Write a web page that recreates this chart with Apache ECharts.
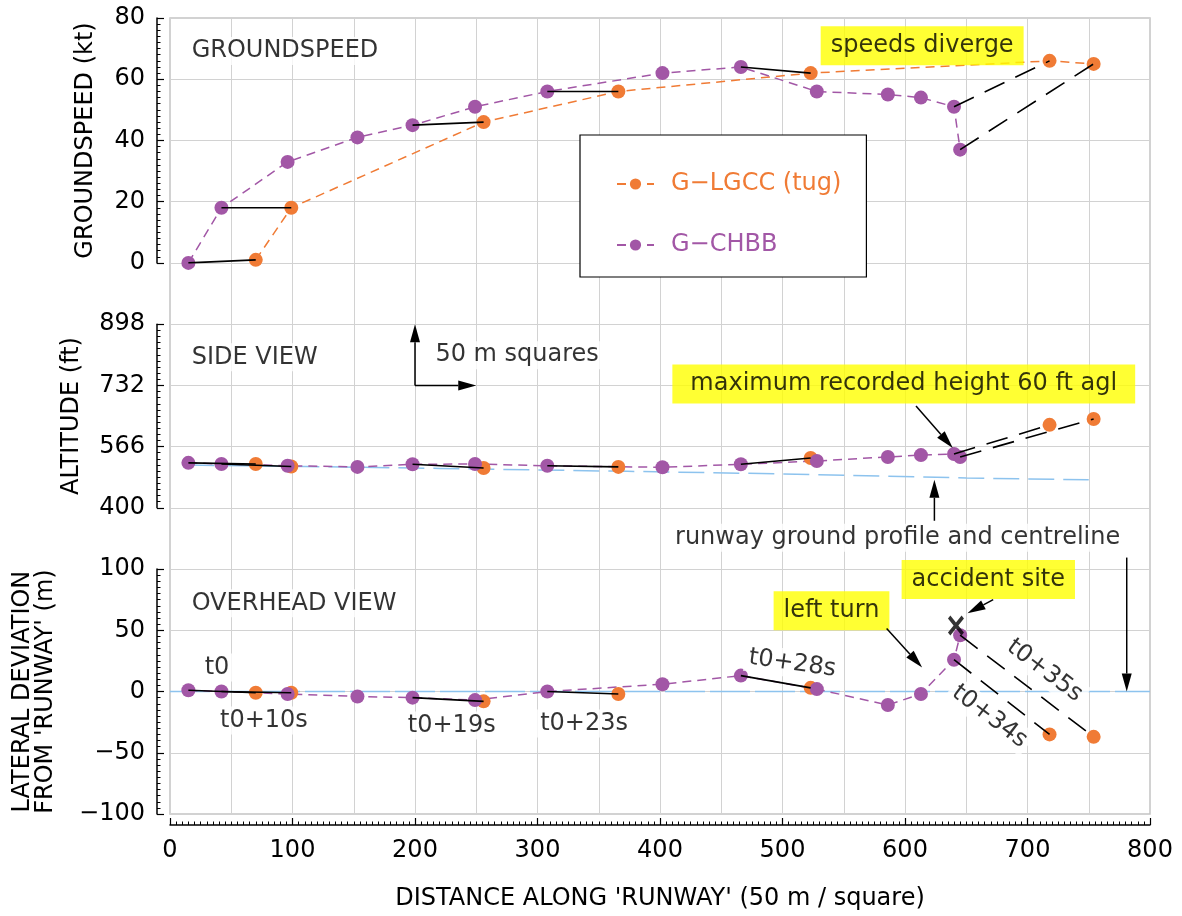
<!DOCTYPE html>
<html><head><meta charset="utf-8">
<script src="https://cdn.jsdelivr.net/npm/echarts@6/dist/echarts.min.js"></script>
<style>html,body{margin:0;padding:0;background:#fff}#c{width:1182px;height:916px}</style>
</head><body><div id="c"></div>
<script>
// ---------------- data ----------------
const NAME_L = 'G\u2212LGCC (tug)';
const NAME_C = 'G\u2212CHBB';
const xLGCC   = [70, 99, 256, 366, 523, 718, 754];
const gsLGCC  = [1, 18, 46, 56, 62, 66, 65];
const altLGCC = [519, 512, 508, 511, 535, 625, 641];
const latLGCC = [-1, -1, -8, -2, 3, -35, -37];
const xCHBB   = [15, 42, 96, 153, 198, 249, 308, 402, 466, 528, 586, 613, 640, 645];
const gsCHBB  = [0, 18, 33, 41, 45, 51, 56, 62, 64, 56, 55, 54, 51, 37];
const altCHBB = [522, 519, 514, 511, 518, 519, 514, 510, 518, 527, 538, 543, 546, 538];
const latCHBB = [1, 0, -2, -4, -5, -7, 0, 6, 13, 2, -11, -2, 26, 46];
// time-synchronised pairs [CHBB index, LGCC index]
const syncPairs  = [[0,0],[1,1],[4,2],[6,3],[8,4],[12,5],[13,6]];
const syncDashed = [false,false,false,false,false,true,true];
const xGround   = [15, 110, 220, 373, 500, 650, 750];
const altGround = [516, 512, 507, 499, 492, 481, 476];
const xCentre   = [0, 800];
const latCentre = [0, 0];
const gsTicks   = [0, 20, 40, 60, 80];
const altTicks  = [400, 566, 732, 898];
const latTicks  = [-100, -50, 0, 50, 100];
const distTicks = [0, 100, 200, 300, 400, 500, 600, 700, 800];

// annotations: [panel, text, x, y, style, rotate]
const notes = [
  [1, 'GROUNDSPEED', 14, 69.2, 'leftWhite', 0],
  [1, 'speeds diverge', 614, 70.9, 'yellow', 0],
  [2, 'SIDE VIEW', 14, 808, 'leftWhite', 0],
  [2, '50 m squares', 213, 814, 'leftWhite', 0],
  [2, 'maximum recorded height 60 ft agl', 599, 736, 'yellowWide', 0],
  [2, 'runway ground profile and centreline', 594, 319, 'white', 0],
  [3, 'OVERHEAD VIEW', 14, 72, 'leftWhite', 0],
  [3, 'accident site', 668, 91.4, 'yellow', 0],
  [3, 'left turn', 540, 66, 'yellow', 0],
  [3, 't0', 38.4, 19.6, 'white', 0],
  [3, 't0+10s', 76.7, -23.7, 'white', 0],
  [3, 't0+19s', 230, -27.8, 'white', 0],
  [3, 't0+23s', 338, -26.1, 'white', 0],
  [3, 't0+28s', 508, 22.9, 'white', -8],
  [3, 't0+35s', 714, 17, 'white', -37],
  [3, 't0+34s', 669, -20.4, 'white', -37]
];
// arrows: [panel, from, to]
const arrows = [
  [2, [200, 732], [250, 732]],
  [2, [200, 732], [200, 898]],
  [2, [609, 676], [639, 562]],
  [2, [624, 365], [624, 476]],
  [3, [672, 75], [651, 64]],
  [3, [585, 51.4], [614, 19.6]],
  [3, [781, 109.4], [781, 0]]
];
const accidentSite = [641.6, 53.9];

// ---------------- styling ----------------
const FONT = 'DejaVu Sans';
const ORANGE = '#F07B35', PURPLE = '#A257A6', BLUE = '#8DC3EE', GRIDC = '#d2d2d2';
const SQ = 796 / 13;
const panelAxes = {1: [1, 1], 2: [2, 2], 3: [3, 4]};

const pts = (xs, ys) => xs.map((x, i) => [x, ys[i]]);
const fmtNeg = v => (v < 0 ? '\u2212' + Math.abs(v) : String(v));

const axisCommonY = {
  type: 'value', position: 'left', offset: 13,
  axisLine: {show: true, onZero: false, lineStyle: {color: '#000', width: 1.5}},
  axisTick: {show: true, inside: true, length: 7, lineStyle: {color: '#000', width: 1.2}},
  minorTick: {show: true, splitNumber: 10, length: 3.5, lineStyle: {color: '#000', width: 1}},
  axisLabel: {fontSize: 24, fontFamily: FONT, color: '#000', margin: 12, formatter: fmtNeg},
  splitLine: {show: false},
  nameLocation: 'middle', nameRotate: 90,
  nameTextStyle: {fontSize: 24, fontFamily: FONT, color: '#000', lineHeight: 23}
};

const altMinor = [];
for (let k = 0; k <= 30; k++) if (k % 10) altMinor.push(400 + k * 16.6);

const grids = [
  {left: 170, right: 32, top: 18, height: 13 * SQ, show: true, borderColor: '#c4c4c4', borderWidth: 1.5, backgroundColor: 'transparent', outerBoundsMode: 'none'},
  {left: 170, right: 32, top: 18, height: 4 * SQ, outerBoundsMode: 'none'},
  {left: 170, right: 32, top: 18 + 5 * SQ, height: 3 * SQ, outerBoundsMode: 'none'},
  {left: 170, right: 32, top: 18 + 9 * SQ, height: 4 * SQ, outerBoundsMode: 'none'}
];

const hiddenX = g => ({gridIndex: g, type: 'value', min: 0, max: 800, show: false, axisLine: {onZero: false}});

const xAxis = [
  {gridIndex: 0, type: 'value', min: 0, max: 800, interval: 50,
   axisLine: {show: false, onZero: false}, axisTick: {show: false}, axisLabel: {show: false},
   splitLine: {show: true, lineStyle: {color: GRIDC, width: 1}}},
  hiddenX(1), hiddenX(2),
  {gridIndex: 3, type: 'value', min: distTicks[0], max: distTicks[distTicks.length - 1], interval: 100,
   position: 'bottom', offset: 11,
   axisLine: {show: true, onZero: false, lineStyle: {color: '#000', width: 1.5}},
   axisTick: {show: true, inside: true, length: 7, lineStyle: {color: '#000', width: 1.2}},
   minorTick: {show: true, splitNumber: 20, length: 3.5, lineStyle: {color: '#000', width: 1}},
   axisLabel: {fontSize: 24, fontFamily: FONT, color: '#000', margin: 14},
   splitLine: {show: false},
   name: "DISTANCE ALONG 'RUNWAY' (50 m / square)", nameLocation: 'middle', nameGap: 62,
   nameTextStyle: {fontSize: 24, fontFamily: FONT, color: '#000'}}
];

const yAxis = [
  {gridIndex: 0, type: 'value', min: 0, max: 13, interval: 1,
   axisLine: {show: false, onZero: false}, axisTick: {show: false}, axisLabel: {show: false},
   splitLine: {show: true, lineStyle: {color: GRIDC, width: 1}}},
  Object.assign({}, axisCommonY, {gridIndex: 1, min: gsTicks[0], max: gsTicks[gsTicks.length - 1], interval: 20,
   name: 'GROUNDSPEED (kt)', nameGap: 60}),
  Object.assign({}, axisCommonY, {gridIndex: 2, min: altTicks[0], max: altTicks[altTicks.length - 1],
   axisLabel: Object.assign({}, axisCommonY.axisLabel, {customValues: altTicks}),
   axisTick: Object.assign({}, axisCommonY.axisTick, {customValues: altTicks}),
   minorTick: {show: false},
   name: 'ALTITUDE (ft)', nameGap: 74}),
  Object.assign({}, axisCommonY, {gridIndex: 2, min: altTicks[0], max: altTicks[altTicks.length - 1],
   axisLine: {show: false, onZero: false}, axisLabel: {show: false},
   axisTick: {show: true, inside: true, length: 3.5, customValues: altMinor, lineStyle: {color: '#000', width: 1}},
   minorTick: {show: false}, name: ''}),
  Object.assign({}, axisCommonY, {gridIndex: 3, min: latTicks[0], max: latTicks[latTicks.length - 1], interval: 50,
   name: "LATERAL DEVIATION\nFROM 'RUNWAY' (m)", nameGap: 100})
];

const series = [];
const lineSeries = (name, ax, data, color) => ({
  type: 'line', name, xAxisIndex: ax[0], yAxisIndex: ax[1], data,
  symbol: 'circle', symbolSize: 14, itemStyle: {color},
  lineStyle: {color, width: 1.5, type: [9, 6]},
  z: 3, silent: true, animation: false
});

// top panel (series first so legend uses these icons)
series.push(lineSeries(NAME_L, panelAxes[1], pts(xLGCC, gsLGCC), ORANGE));
series.push(lineSeries(NAME_C, panelAxes[1], pts(xCHBB, gsCHBB), PURPLE));
// middle panel
series.push({type: 'line', xAxisIndex: 2, yAxisIndex: 2, data: pts(xGround, altGround), symbol: 'none',
  lineStyle: {color: BLUE, width: 1.5, type: [26, 9]}, z: 2, silent: true});
series.push({type: 'scatter', name: NAME_L, xAxisIndex: 2, yAxisIndex: 2, data: pts(xLGCC, altLGCC),
  symbolSize: 14, itemStyle: {color: ORANGE, opacity: 1}, z: 3, silent: true});
series.push(lineSeries(NAME_C, panelAxes[2], pts(xCHBB, altCHBB), PURPLE));
// bottom panel
series.push({type: 'line', xAxisIndex: 3, yAxisIndex: 4, data: pts(xCentre, latCentre), symbol: 'none',
  lineStyle: {color: BLUE, width: 1.5, type: [40, 5]}, z: 2, silent: true});
series.push({type: 'scatter', name: NAME_L, xAxisIndex: 3, yAxisIndex: 4, data: pts(xLGCC, latLGCC),
  symbolSize: 14, itemStyle: {color: ORANGE, opacity: 1}, z: 3, silent: true});
series.push(lineSeries(NAME_C, panelAxes[3], pts(xCHBB, latCHBB), PURPLE));

// time-sync connectors
const panelData = {1: [gsCHBB, gsLGCC], 2: [altCHBB, altLGCC], 3: [latCHBB, latLGCC]};
[1, 2, 3].forEach(p => {
  const [yc, yl] = panelData[p];
  syncPairs.forEach(([c, l], k) => {
    series.push({type: 'line', xAxisIndex: panelAxes[p][0], yAxisIndex: panelAxes[p][1],
      data: [[xCHBB[c], yc[c]], [xLGCC[l], yl[l]]], symbol: 'none',
      lineStyle: {color: '#000', width: 1.6, type: syncDashed[k] ? [22, 12] : 'solid'},
      z: 4, silent: true});
  });
});

// annotation labels
[1, 2, 3].forEach(p => {
  const items = notes.filter(n => n[0] === p).map(n => {
    const [, text, x, y, style, rot] = n;
    const yellow = style.indexOf('yellow') === 0;
    return {
      value: [x, y],
      label: {
        show: true, formatter: text,
        position: style === 'leftWhite' ? 'right' : 'inside', distance: 0,
        rotate: rot, fontSize: 24, fontFamily: FONT, color: '#000',
        backgroundColor: yellow ? '#FFFF00' : '#fff',
        padding: style === 'yellowWide' ? [8, 18, 7, 18] : (yellow ? [8, 10, 7, 10] : [2, 4])
      }
    };
  });
  series.push({type: 'scatter', xAxisIndex: panelAxes[p][0], yAxisIndex: panelAxes[p][1], data: items,
    symbolSize: 1, itemStyle: {color: 'rgba(0,0,0,0)'}, clip: false, silent: true, z: 10});
});
// accident site marker
series.push({type: 'scatter', xAxisIndex: 3, yAxisIndex: 4, data: [accidentSite],
  symbol: 'path://M0,3L3,0L10,7L17,0L20,3L13,10L20,17L17,20L10,13L3,20L0,17L7,10Z',
  symbolSize: [16, 20], itemStyle: {color: '#000'}, z: 11, silent: true, clip: false});

const chart = echarts.init(document.getElementById('c'), null, {renderer: 'canvas'});
chart.setOption({
  animation: false,
  backgroundColor: '#fff',
  grid: grids, xAxis, yAxis, series,
  legend: {
    left: 580, top: 135, orient: 'vertical', padding: [37, 25, 20, 36], itemGap: 37,
    itemWidth: 37, itemHeight: 14, backgroundColor: '#fff', borderColor: '#000', borderWidth: 1.2,
    selectedMode: false, z: 8,
    textStyle: {fontSize: 24, fontFamily: FONT, padding: [0, 0, 0, 12]},
    data: [{name: NAME_L, textStyle: {color: ORANGE}}, {name: NAME_C, textStyle: {color: PURPLE}}]
  }
});

// arrows via library coordinate conversion
const g = [];
arrows.forEach(([p, from, to]) => {
  const f = {xAxisIndex: panelAxes[p][0], yAxisIndex: panelAxes[p][1]};
  const p1 = chart.convertToPixel(f, from), p2 = chart.convertToPixel(f, to);
  const dx = p2[0] - p1[0], dy = p2[1] - p1[1], L = Math.hypot(dx, dy);
  const ux = dx / L, uy = dy / L, HL = 18, HW = 5;
  const bx = p2[0] - ux * HL, by = p2[1] - uy * HL;
  g.push({type: 'line', silent: true, z: 20, shape: {x1: p1[0], y1: p1[1], x2: bx, y2: by},
    style: {stroke: '#000', lineWidth: 1.5}});
  g.push({type: 'polygon', silent: true, z: 20,
    shape: {points: [[p2[0], p2[1]], [bx - uy * HW, by + ux * HW], [bx + uy * HW, by - ux * HW]]},
    style: {fill: '#000'}});
});
chart.setOption({graphic: g});
</script></body></html>
